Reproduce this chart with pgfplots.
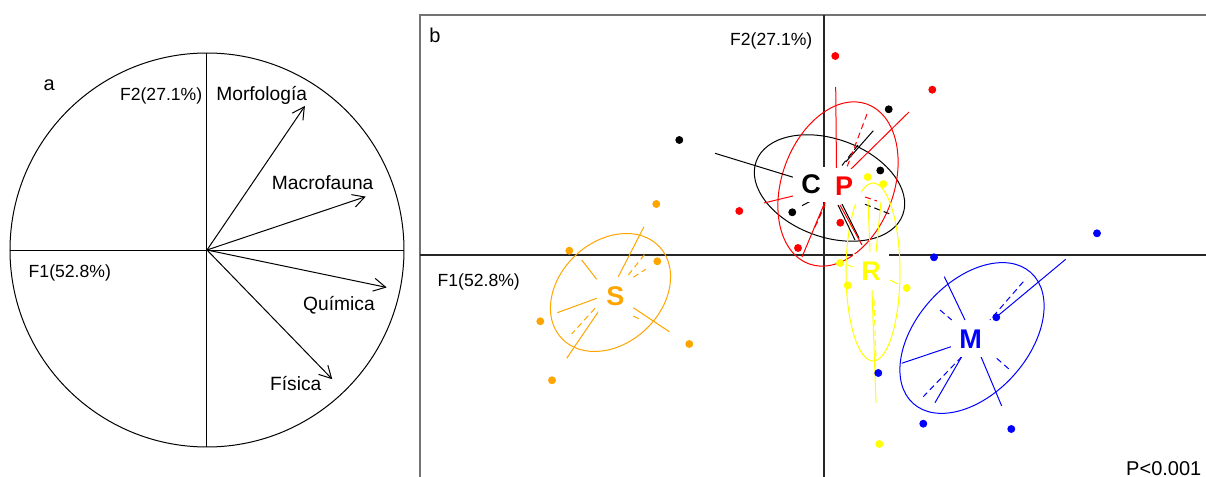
\documentclass[border=0pt]{standalone}
\usepackage{fontspec}
\setmainfont{Liberation Sans}
\usepackage{pgfplots}
\pgfplotsset{compat=1.18}
\usetikzlibrary{arrows.meta}
\definecolor{sorange}{HTML}{FFA500}
\definecolor{syellow}{HTML}{FFFF00}
\definecolor{sred}{HTML}{FF0000}
\definecolor{sblue}{HTML}{0000FF}
\newcommand{\axlab}{\fontsize{8.8}{10}\selectfont}
\newcommand{\varlab}{\fontsize{9.6}{11}\selectfont}
\newcommand{\panlab}{\fontsize{10}{12}\selectfont}
\newcommand{\grplab}{\fontsize{13.5}{15}\selectfont\bfseries}
\begin{document}
\begin{tikzpicture}[x=1pt,y=1pt]
\useasboundingbox (0,0) rectangle (603,238.5);
% ---------------- panel a ----------------
\begin{axis}[at={(5pt,15pt)}, anchor=south west, scale only axis,
  width=197pt, height=197pt, xmin=-1, xmax=1, ymin=-1, ymax=1,
  hide axis, clip=false]
\draw[line width=0.5pt] (axis cs:0,0) circle [radius=1];
\addplot[black, line width=0.5pt] coordinates {(-1,0) (1,0)};
\addplot[black, line width=0.5pt] coordinates {(0,-1) (0,1)};
\addplot[black, line width=0.5pt, -{Straight Barb[length=6pt,width=6.5pt]}] coordinates {(0,0) (0.497,0.731)};
\addplot[black, line width=0.5pt, -{Straight Barb[length=6pt,width=6.5pt]}] coordinates {(0,0) (0.806,0.271)};
\addplot[black, line width=0.5pt, -{Straight Barb[length=6pt,width=6.5pt]}] coordinates {(0,0) (0.912,-0.190)};
\addplot[black, line width=0.5pt, -{Straight Barb[length=6pt,width=6.5pt]}] coordinates {(0,0) (0.636,-0.656)};
\node[anchor=base, inner sep=0pt, font=\panlab] at (axis cs:-0.8005,0.8086) {a};
\node[anchor=base east, inner sep=0pt, font=\axlab] at (axis cs:-0.022,0.7614) {F2(27.1\%)};
\node[anchor=base west, inner sep=0pt, font=\axlab] at (axis cs:-0.907,-0.1386) {F1(52.8\%)};
\node[anchor=base, inner sep=0pt, font=\varlab] at (axis cs:0.2777,0.7614) {Morfología};
\node[anchor=base, inner sep=0pt, font=\varlab] at (axis cs:0.5873,0.3081) {Macrofauna};
\node[anchor=base, inner sep=0pt, font=\varlab] at (axis cs:0.67,-0.3046) {Química};
\node[anchor=base, inner sep=0pt, font=\varlab] at (axis cs:0.4503,-0.7142) {Física};
\end{axis}
% ---------------- panel b ----------------
\begin{axis}[at={(210pt,0pt)}, anchor=south west, scale only axis,
  width=393pt, height=231pt, xmin=-404, xmax=382, ymin=-222, ymax=240,
  hide axis, clip=false]
\draw[black!55, line width=0.8pt] (rel axis cs:0,0) -- (rel axis cs:0,1) -- (rel axis cs:1,1);
\addplot[black!85, line width=0.6pt] coordinates {(-404,0) (382,0)};
\addplot[black!85, line width=0.6pt] coordinates {(0,-222) (0,240)};
% ellipses
\draw[sorange, line width=0.5pt, rotate around={43:(axis cs:-213.5,-37.5)}] (axis cs:-213.5,-37.5) ellipse [x radius=67, y radius=51];
\draw[black, line width=0.5pt, rotate around={-20:(axis cs:5.5,67)}] (axis cs:5.5,67) ellipse [x radius=78, y radius=49];
\draw[sred, line width=0.5pt, rotate around={70:(axis cs:14,71)}] (axis cs:14,71) ellipse [x radius=85, y radius=56];
\draw[syellow, line width=0.5pt, rotate around={90:(axis cs:49,-17)}] (axis cs:49,-17) ellipse [x radius=89, y radius=27];
\draw[sblue, line width=0.5pt, rotate around={48:(axis cs:148,-83)}] (axis cs:148,-83) ellipse [x radius=88, y radius=56];
% star lines (solid)
\addplot[sorange, line width=0.5pt, unbounded coords=jump] coordinates {
 (-205.7,-21.7) (-180,28.3) (nan,nan)
 (-227.3,-43.3) (-266.7,-57.7) (nan,nan)
 (-190.7,-52.7) (-154.7,-76.7) (nan,nan)
 (-225.7,-56.7) (-257.3,-103.3) (nan,nan)
 (-242.3,-5) (-227.3,-24.3)};
\addplot[sorange, line width=0.5pt, dash pattern=on 3pt off 2pt, unbounded coords=jump] coordinates {
 (-195.7,-20) (-177.3,3.3) (nan,nan)
 (-190.7,-22.3) (-178.3,-14.3) (nan,nan)
 (-229,-53.3) (-252.3,-79) (nan,nan)
 (-190.7,-61) (-184,-64.3)};
\addplot[black, line width=0.5pt, unbounded coords=jump] coordinates {
 (-109,101.7) (-30.7,77.7) (nan,nan)
 (49.3,124.3) (22,93.3) (nan,nan)
 (-22,49.3) (-11.3,55) (nan,nan)
 (14,50) (31,15) (nan,nan)
 (18,51) (35,17)};
\addplot[black, line width=0.5pt, dash pattern=on 3pt off 2pt, unbounded coords=jump] coordinates {
 (34,110) (16,87) (nan,nan)
 (41,50.7) (66.7,40.7) (nan,nan)
 (1,51.7) (-7.3,31.7)};
\addplot[sred, line width=0.5pt, unbounded coords=jump] coordinates {
 (11.7,168) (12.5,87) (nan,nan)
 (85,143) (26,85) (nan,nan)
 (-60,52) (-31,59) (nan,nan)
 (-22,-2) (1,53) (nan,nan)
 (38,10) (16,50)};
\addplot[sred, line width=0.5pt, dash pattern=on 3pt off 2pt, unbounded coords=jump] coordinates {
 (43,141) (23,88) (nan,nan)
 (-9,28) (1,50) (nan,nan)
 (41,58) (53,54)};
\addplot[syellow, line width=0.5pt, unbounded coords=jump] coordinates {
 (44,55) (46,3) (nan,nan)
 (57,53) (52,3) (nan,nan)
 (52,-148) (48,-35) (nan,nan)
 (66,-25) (74,-29) (nan,nan)
 (24,-10) (29,-12)};
\addplot[syellow, line width=0.5pt, dash pattern=on 3pt off 2pt] coordinates {(50,-45) (52,-105)};
\addplot[sblue, line width=0.5pt, unbounded coords=jump] coordinates {
 (241.7,-4.3) (172,-62.3) (nan,nan)
 (120.3,-21.7) (141,-65) (nan,nan)
 (77.7,-108.3) (127,-91.7) (nan,nan)
 (111,-147.7) (137.7,-101.7) (nan,nan)
 (177.7,-151) (156.7,-101)};
\addplot[sblue, line width=0.5pt, dash pattern=on 3pt off 2pt, unbounded coords=jump] coordinates {
 (199.3,-26.7) (166,-65) (nan,nan)
 (116,-55) (127.7,-65) (nan,nan)
 (137.7,-101.7) (99.3,-141.7) (nan,nan)
 (172.7,-103.3) (186,-115)};
% points
\addplot[only marks, mark=*, mark size=1.75pt, color=sorange] coordinates {
 (-167.7,51) (-254.7,4.3) (-166.7,-6.3) (-283.7,-66.3) (-134.7,-89) (-272,-125.3)};
\addplot[only marks, mark=*, mark size=1.75pt, color=black] coordinates {
 (-144.7,115) (64.7,145.7) (56.3,84.5) (-31.7,42.7)};
\addplot[only marks, mark=*, mark size=1.75pt, color=sred] coordinates {
 (11.3,199) (108.3,165.3) (-84.7,44) (16.3,32.3) (-26,7)};
\addplot[only marks, mark=*, mark size=1.75pt, color=syellow] coordinates {
 (43.7,78) (59.3,71) (16,-8) (23.7,-30.3) (82.7,-33) (55.3,-189)};
\addplot[only marks, mark=*, mark size=1.75pt, color=sblue] coordinates {
 (273,21.7) (110,-2.3) (172.3,-62.3) (54.3,-118) (99.3,-168.7) (187.3,-174)};
% group labels
\node[fill=white, inner sep=4pt, text=sorange, font=\grplab] at (axis cs:-208.7,-41.7) {S};
\node[fill=white, inner sep=4pt, text=black, font=\grplab] at (axis cs:-13,70.7) {C};
\node[fill=white, inner sep=4pt, text=sred, font=\grplab] at (axis cs:20,68.3) {P};
\node[fill=white, inner sep=4pt, text=syellow, font=\grplab] at (axis cs:47,-16.7) {R};
\node[fill=white, inner sep=4pt, text=sblue, font=\grplab] at (axis cs:146.7,-84.3) {M};
% texts
\node[anchor=base, inner sep=0pt, font=\panlab] at (axis cs:-389,212.3) {b};
\node[anchor=base east, inner sep=0pt, font=\axlab] at (axis cs:-11.3,209) {F2(27.1\%)};
\node[anchor=base west, inner sep=0pt, font=\axlab] at (axis cs:-386.7,-31.7) {F1(52.8\%)};
\node[anchor=base east, inner sep=0pt, font=\panlab] at (axis cs:377.7,-220) {P<0.001};
\end{axis}
\end{tikzpicture}
\end{document}
